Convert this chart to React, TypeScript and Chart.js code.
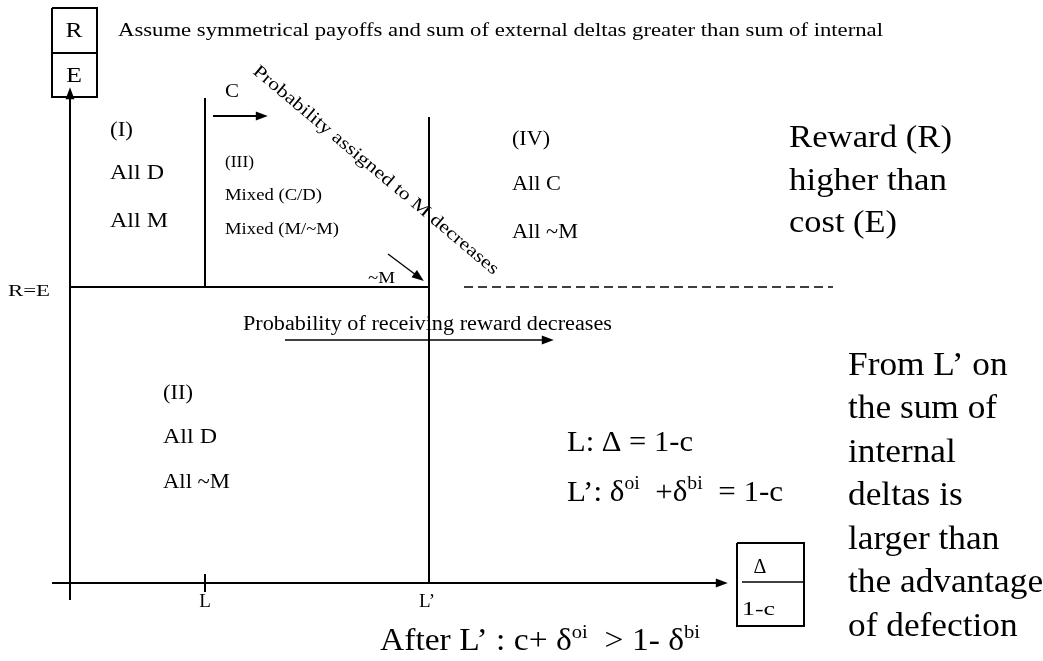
import React, { useEffect, useRef } from "react";
import { Chart, registerables } from "chart.js";
Chart.register(...registerables);

// ---- Diagram coordinate system (origin = intersection of the two axes) ----
const X_MIN = -70;
const X_MAX = 973;
const Y_MIN = -78;
const Y_MAX = 583;

// key positions on the horizontal axis
const L_POS = 135;
const L_PRIME_POS = 359;
const RE_LEVEL = 296;

// line segments (diagram units)
const yAxis = [{ x: 0, y: -17 }, { x: 0, y: 491 }];
const xAxis = [{ x: -18, y: 0 }, { x: 653, y: 0 }];
const lTick = [{ x: L_POS, y: -9 }, { x: L_POS, y: 9 }];
const lPrimeLine = [{ x: L_PRIME_POS, y: 0 }, { x: L_PRIME_POS, y: 466 }];
const reLine = [{ x: 0, y: RE_LEVEL }, { x: L_PRIME_POS, y: RE_LEVEL }];
const lLine = [{ x: L_POS, y: RE_LEVEL }, { x: L_POS, y: 485 }];
const dashedLine = [{ x: 394, y: RE_LEVEL }, { x: 763, y: RE_LEVEL }];
const cArrow = [{ x: 143, y: 467 }, { x: 193, y: 467 }];
const mArrow = [{ x: 318, y: 329 }, { x: 350, y: 305 }];
const rewardArrow = [{ x: 215, y: 243 }, { x: 479, y: 243 }];
const reBox = [
  { x: -18, y: 575 }, { x: 27, y: 575 }, { x: 27, y: 486 }, { x: -18, y: 486 }, { x: -18, y: 575 },
];
const reDivider = [{ x: -18, y: 530 }, { x: 27, y: 530 }];
const deltaBox = [
  { x: 667, y: 40 }, { x: 734, y: 40 }, { x: 734, y: -43 }, { x: 667, y: -43 }, { x: 667, y: 40 },
];
const deltaDivider = [{ x: 672, y: 1 }, { x: 733, y: 1 }];

// ---- Text annotations ----
type Run = { t: string; sup?: boolean };
type Label = {
  runs: Run[];
  x: number;
  y: number;
  size: number;
  align?: "left" | "center";
  rotate?: number;
  w?: number; // target rendered width
  sx?: number; // horizontal stretch
};
const r = (t: string): Run[] => [{ t }];

const labels: Label[] = [
  { runs: r("R"), x: 4, y: 552, size: 22, align: "center", w: 17 },
  { runs: r("E"), x: 4, y: 507, size: 22, align: "center", w: 16 },
  { runs: r("Assume symmetrical payoffs and sum of external deltas greater than sum of internal"), x: 48, y: 552, size: 19, w: 765 },
  { runs: r("C"), x: 155, y: 491, size: 18, w: 14 },
  { runs: r("Probability assigned to M decreases"), x: 185, y: 514, size: 18, rotate: 40, w: 315 },
  { runs: r("(I)"), x: 40, y: 453, size: 21, w: 23 },
  { runs: r("All D"), x: 40, y: 410, size: 21, w: 54 },
  { runs: r("All M"), x: 40, y: 362, size: 21, w: 58 },
  { runs: r("(III)"), x: 155, y: 420, size: 17, w: 29 },
  { runs: r("Mixed (C/D)"), x: 155, y: 387, size: 17, w: 97 },
  { runs: r("Mixed (M/~M)"), x: 155, y: 353, size: 17, w: 114 },
  { runs: r("~M"), x: 298, y: 304, size: 17, w: 27 },
  { runs: r("(IV)"), x: 442, y: 443, size: 20, w: 38 },
  { runs: r("All C"), x: 442, y: 398, size: 20, w: 49 },
  { runs: r("All ~M"), x: 442, y: 350, size: 20, w: 66 },
  { runs: r("Reward (R)"), x: 719, y: 444, size: 32, w: 163 },
  { runs: r("higher than"), x: 719, y: 401, size: 32, w: 158 },
  { runs: r("cost (E)"), x: 719, y: 359, size: 32, w: 108 },
  { runs: r("R=E"), x: -62, y: 291, size: 16, w: 42 },
  { runs: r("Probability of receiving reward decreases"), x: 173, y: 258, size: 20, w: 369 },
  { runs: r("(II)"), x: 93, y: 190, size: 21, w: 30 },
  { runs: r("All D"), x: 93, y: 146, size: 21, w: 54 },
  { runs: r("All ~M"), x: 93, y: 101, size: 21, w: 67 },
  { runs: r("L: \u0394 = 1-c"), x: 497, y: 140, size: 30, w: 126 },
  {
    runs: [
      { t: "L\u2019: \u03b4" }, { t: "oi", sup: true }, { t: "  +\u03b4" }, { t: "bi", sup: true }, { t: "  = 1-c" },
    ],
    x: 497, y: 90, size: 30, w: 216,
  },
  { runs: r("From L\u2019 on"), x: 778, y: 217, size: 33, sx: 1.07 },
  { runs: r("the sum of"), x: 778, y: 173.5, size: 33, sx: 1.07 },
  { runs: r("internal"), x: 778, y: 130, size: 33, sx: 1.07 },
  { runs: r("deltas is"), x: 778, y: 86.5, size: 33, sx: 1.07 },
  { runs: r("larger than"), x: 778, y: 43, size: 33, sx: 1.07 },
  { runs: r("the advantage"), x: 778, y: -0.5, size: 33, sx: 1.07 },
  { runs: r("of defection"), x: 778, y: -44, size: 33, sx: 1.07 },
  { runs: r("L"), x: L_POS, y: -19, size: 19, align: "center" },
  { runs: r("L\u2019"), x: L_PRIME_POS - 2, y: -19, size: 19, align: "center" },
  {
    runs: [
      { t: "After L\u2019 : c+ \u03b4" }, { t: "oi", sup: true }, { t: "  > 1- \u03b4" }, { t: "bi", sup: true },
    ],
    x: 310, y: -59, size: 31, w: 320,
  },
  { runs: r("\u0394"), x: 690, y: 15, size: 20, align: "center" },
  { runs: r("1-c"), x: 672, y: -27, size: 19, w: 33 },
];

const FONT = '"Liberation Serif", "Times New Roman", serif';

const seg = (data: { x: number; y: number }[], extra: any = {}) => ({
  type: "line" as const,
  data,
  borderColor: "#000",
  borderWidth: 2,
  pointRadius: 0,
  fill: false,
  tension: 0,
  ...extra,
});

const arrowPlugin = {
  id: "arrowHeads",
  afterDatasetsDraw(chart: any) {
    const ctx = chart.ctx;
    chart.data.datasets.forEach((ds: any, i: number) => {
      if (!ds.arrow) return;
      const pts = chart.getDatasetMeta(i).data;
      const a = pts[pts.length - 2];
      const b = pts[pts.length - 1];
      const ang = Math.atan2(b.y - a.y, b.x - a.x);
      const len = ds.arrowLen || 12;
      const half = ds.arrowHalf || 4.5;
      ctx.save();
      ctx.translate(b.x, b.y);
      ctx.rotate(ang);
      ctx.beginPath();
      ctx.moveTo(len * 0.4, 0);
      ctx.lineTo(-len * 0.6, -half);
      ctx.lineTo(-len * 0.6, half);
      ctx.closePath();
      ctx.fillStyle = "#000";
      ctx.fill();
      ctx.restore();
    });
  },
};

const textPlugin = {
  id: "diagramText",
  afterDraw(chart: any) {
    const ctx = chart.ctx;
    const xs = chart.scales.x;
    const ys = chart.scales.y;
    labels.forEach((lb) => {
      const px = xs.getPixelForValue(lb.x);
      const py = ys.getPixelForValue(lb.y);
      ctx.save();
      ctx.fillStyle = "#000";
      ctx.textBaseline = "middle";
      ctx.textAlign = "left";
      ctx.translate(px, py);
      if (lb.rotate) ctx.rotate((lb.rotate * Math.PI) / 180);
      const supSize = Math.round(lb.size * 0.62);
      let total = 0;
      lb.runs.forEach((run) => {
        ctx.font = `${run.sup ? supSize : lb.size}px ${FONT}`;
        total += ctx.measureText(run.t).width;
      });
      const sx = lb.w ? lb.w / total : lb.sx || 1;
      const startX = lb.align === "center" ? (-total * sx) / 2 : 0;
      ctx.translate(startX, 0);
      ctx.scale(sx, 1);
      let cx = 0;
      lb.runs.forEach((run) => {
        ctx.font = `${run.sup ? supSize : lb.size}px ${FONT}`;
        ctx.fillText(run.t, cx, run.sup ? -lb.size * 0.3 : 0);
        cx += ctx.measureText(run.t).width;
      });
      ctx.restore();
    });
  },
};

export default function App() {
  const ref = useRef<HTMLCanvasElement | null>(null);
  useEffect(() => {
    document.body.style.margin = "0";
    document.body.style.overflow = "hidden";
    const chart = new Chart(ref.current as HTMLCanvasElement, {
      type: "line",
      data: {
        datasets: [
          seg(yAxis, { arrow: true }),
          seg(xAxis, { arrow: true }),
          seg(lTick),
          seg(lPrimeLine),
          seg(reLine),
          seg(lLine),
          seg(dashedLine, { borderDash: [9, 5], borderWidth: 1.6 }),
          seg(cArrow, { arrow: true }),
          seg(mArrow, { arrow: true, borderWidth: 1.3 }),
          seg(rewardArrow, { arrow: true, borderWidth: 1.6 }),
          seg(reBox),
          seg(reDivider),
          seg(deltaBox),
          seg(deltaDivider, { borderWidth: 1.3 }),
        ] as any,
      },
      options: {
        animation: false,
        responsive: false,
        maintainAspectRatio: false,
        layout: { padding: 0 },
        plugins: { legend: { display: false }, tooltip: { enabled: false } },
        scales: {
          x: { type: "linear", min: X_MIN, max: X_MAX, display: false },
          y: { type: "linear", min: Y_MIN, max: Y_MAX, display: false },
        },
      },
      plugins: [arrowPlugin, textPlugin],
    });
    return () => chart.destroy();
  }, []);
  return (
    <div style={{ width: 1043, height: 661, background: "#fff" }}>
      <canvas ref={ref} width={1043} height={661} style={{ display: "block" }} />
    </div>
  );
}
